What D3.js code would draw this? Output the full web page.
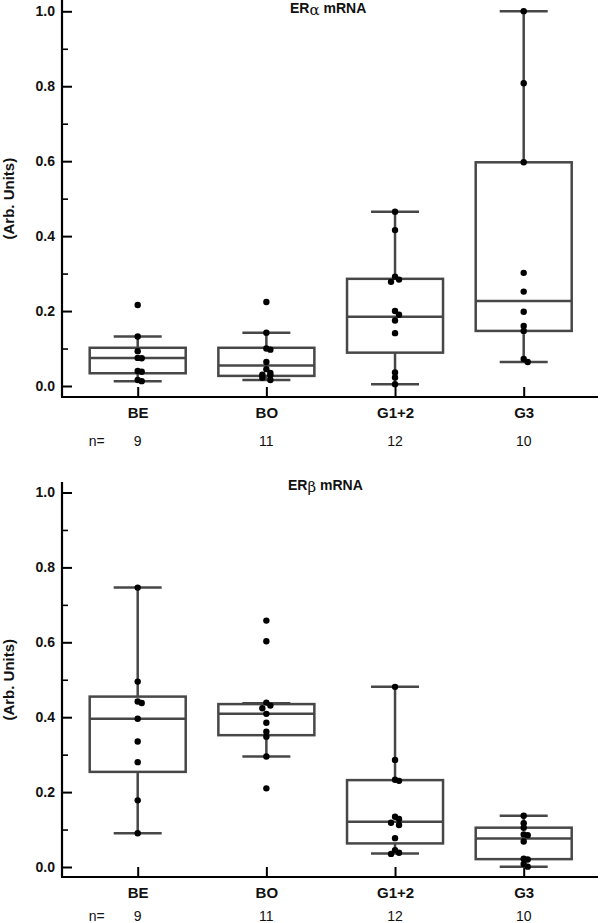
<!DOCTYPE html>
<html>
<head>
<meta charset="utf-8">
<script src="https://cdn.jsdelivr.net/npm/d3@7"></script>
<style>
  html, body { margin: 0; padding: 0; background: #fff; }
  svg { display: block; }
  text { font-family: "Liberation Sans", Arial, sans-serif; fill: #111; }
</style>
</head>
<body>
<svg id="chart" width="600" height="923"></svg>
<script>
// ---------- data ----------
const categories = ["BE", "BO", "G1+2", "G3"];
const counts = [9, 11, 12, 10];
const yTicksMajor = [0, 0.2, 0.4, 0.6, 0.8, 1.0];
const yTicksMinor = [0.1, 0.3, 0.5, 0.7, 0.9];

// ER alpha mRNA
const alphaPoints = [
  [0.216, 0.132, 0.093, 0.075, 0.074, 0.040, 0.038, 0.016, 0.013],
  [0.224, 0.142, 0.100, 0.097, 0.064, 0.045, 0.035, 0.030, 0.029, 0.022, 0.016],
  [0.465, 0.416, 0.292, 0.284, 0.278, 0.200, 0.190, 0.175, 0.141, 0.036, 0.023, 0.005],
  [1.000, 0.808, 0.597, 0.302, 0.252, 0.198, 0.160, 0.147, 0.072, 0.064]
];
const alphaLow = [0.013, 0.016, 0.005, 0.064];
const alphaQ1 = [0.034, 0.027, 0.089, 0.147];
const alphaMedian = [0.075, 0.055, 0.185, 0.227];
const alphaQ3 = [0.102, 0.102, 0.286, 0.597];
const alphaHigh = [0.132, 0.142, 0.465, 1.000];

// ER beta mRNA
const betaPoints = [
  [0.746, 0.495, 0.442, 0.438, 0.396, 0.335, 0.280, 0.178, 0.090],
  [0.658, 0.603, 0.439, 0.431, 0.424, 0.409, 0.385, 0.361, 0.348, 0.295, 0.210],
  [0.481, 0.286, 0.233, 0.230, 0.134, 0.128, 0.118, 0.112, 0.077, 0.045, 0.038, 0.035],
  [0.137, 0.117, 0.105, 0.087, 0.085, 0.068, 0.022, 0.020, 0.008, 0.001]
];
const betaLow = [0.090, 0.295, 0.036, 0.001];
const betaQ1 = [0.254, 0.352, 0.063, 0.021];
const betaMedian = [0.396, 0.409, 0.121, 0.076];
const betaQ3 = [0.455, 0.435, 0.232, 0.105];
const betaHigh = [0.746, 0.437, 0.481, 0.137];

// ---------- drawing ----------
const svg = d3.select("#chart");
const boxColor = "#474747";
const axisLeftX = 62, axisRightX = 598;

const x = d3.scalePoint().domain(categories).range([137.7, 523.7]);

function panel(cfg) {
  const y = d3.scaleLinear().domain([0, 1]).range([cfg.y0, cfg.y1]);
  const g = svg.append("g");

  // y axis line
  g.append("line").attr("x1", axisLeftX).attr("x2", axisLeftX)
    .attr("y1", cfg.axisTop).attr("y2", cfg.axisBottom)
    .attr("stroke", "#000").attr("stroke-width", 2.2);
  // x axis line
  g.append("line").attr("x1", axisLeftX - 1).attr("x2", axisRightX)
    .attr("y1", cfg.axisBottom).attr("y2", cfg.axisBottom)
    .attr("stroke", "#000").attr("stroke-width", 2.2);

  // major y ticks
  const ya = g.append("g").attr("transform", `translate(${axisLeftX},0)`)
    .call(d3.axisLeft(y).tickValues(yTicksMajor).tickFormat(d3.format(".1f"))
      .tickSizeInner(-10).tickSizeOuter(0).tickPadding(7));
  ya.select(".domain").remove();
  ya.selectAll(".tick line").attr("stroke", "#000").attr("stroke-width", 2);
  ya.selectAll(".tick text").attr("font-size", 14).attr("font-weight", "bold")
    .attr("font-family", "Liberation Sans, Arial, sans-serif").attr("fill", "#111");

  // minor y ticks
  const ym = g.append("g").attr("transform", `translate(${axisLeftX},0)`)
    .call(d3.axisLeft(y).tickValues(yTicksMinor).tickFormat("")
      .tickSizeInner(-6).tickSizeOuter(0));
  ym.select(".domain").remove();
  ym.selectAll(".tick line").attr("stroke", "#000").attr("stroke-width", 1.6);

  // x axis ticks and labels
  const xa = g.append("g").attr("transform", `translate(0,${cfg.axisBottom})`)
    .call(d3.axisBottom(x).tickSizeInner(-10).tickSizeOuter(0).tickPadding(10));
  xa.select(".domain").remove();
  xa.selectAll(".tick line").attr("stroke", "#000").attr("stroke-width", 2);
  xa.selectAll(".tick text").attr("font-size", 15).attr("font-weight", "bold")
    .attr("font-family", "Liberation Sans, Arial, sans-serif").attr("fill", "#111");

  // n row
  g.append("text").attr("x", 96.7).attr("y", cfg.axisBottom + cfg.nOffset)
    .attr("text-anchor", "middle").attr("font-size", 14).text("n=");
  g.selectAll(".ncount").data(categories).join("text")
    .attr("class", "ncount")
    .attr("x", d => x(d)).attr("y", cfg.axisBottom + cfg.nOffset)
    .attr("text-anchor", "middle").attr("font-size", 14)
    .text((d, i) => counts[i]);

  // y label
  g.append("text")
    .attr("transform", `translate(14,${(cfg.y0 + cfg.y1) / 2}) rotate(-90)`)
    .attr("text-anchor", "middle").attr("font-size", 15).attr("font-weight", "bold")
    .text("(Arb. Units)");

  // title
  const t = g.append("text").attr("x", cfg.titleX).attr("y", cfg.titleY)
    .attr("font-size", 14).attr("font-weight", "bold");
  t.append("tspan").text("ER");
  t.append("tspan").attr("font-family", "DejaVu Serif, serif").attr("font-weight", "normal")
    .attr("font-size", 15).attr("dy", 2).text(cfg.greek);
  t.append("tspan").attr("dy", -2).text(cfg.greekGap + "mRNA");

  const boxW = 96, capW = 48;
  categories.forEach((c, i) => {
    const cx = x(c);
    const bg = g.append("g");
    // whisker
    bg.append("line").attr("x1", cx).attr("x2", cx)
      .attr("y1", y(cfg.low[i])).attr("y2", y(cfg.high[i]))
      .attr("stroke", boxColor).attr("stroke-width", 2.5);
    [cfg.low[i], cfg.high[i]].forEach(v => {
      bg.append("line").attr("x1", cx - capW / 2).attr("x2", cx + capW / 2)
        .attr("y1", y(v)).attr("y2", y(v))
        .attr("stroke", boxColor).attr("stroke-width", 2.5);
    });
    // box
    bg.append("rect").attr("x", cx - boxW / 2).attr("width", boxW)
      .attr("y", y(cfg.q3[i])).attr("height", y(cfg.q1[i]) - y(cfg.q3[i]))
      .attr("fill", "#fff").attr("stroke", boxColor).attr("stroke-width", 2.5);
    bg.append("line").attr("x1", cx - boxW / 2).attr("x2", cx + boxW / 2)
      .attr("y1", y(cfg.median[i])).attr("y2", y(cfg.median[i]))
      .attr("stroke", boxColor).attr("stroke-width", 2.5);

    // points with small jitter for near-coincident values
    const pts = cfg.points[i];
    let prevY = null, side = 1;
    const placed = pts.map(v => {
      const py = y(v);
      let dx = 0;
      if (prevY !== null && Math.abs(py - prevY) < 4) { dx = 4 * side; side = -side; }
      else side = 1;
      prevY = py;
      return { px: cx + dx, py };
    });
    bg.selectAll("circle").data(placed).join("circle")
      .attr("cx", d => d.px).attr("cy", d => d.py).attr("r", 3.2).attr("fill", "#000");
  });
}

panel({
  y0: 386, y1: 11.3, axisTop: 0, axisBottom: 397, nOffset: 49,
  titleX: 290, titleY: 13, greek: "α", greekGap: " ",
  points: alphaPoints, low: alphaLow, q1: alphaQ1, median: alphaMedian, q3: alphaQ3, high: alphaHigh
});
panel({
  y0: 867, y1: 492.5, axisTop: 482, axisBottom: 877, nOffset: 44,
  titleX: 288, titleY: 490, greek: "β", greekGap: "  ",
  points: betaPoints, low: betaLow, q1: betaQ1, median: betaMedian, q3: betaQ3, high: betaHigh
});
</script>
</body>
</html>
